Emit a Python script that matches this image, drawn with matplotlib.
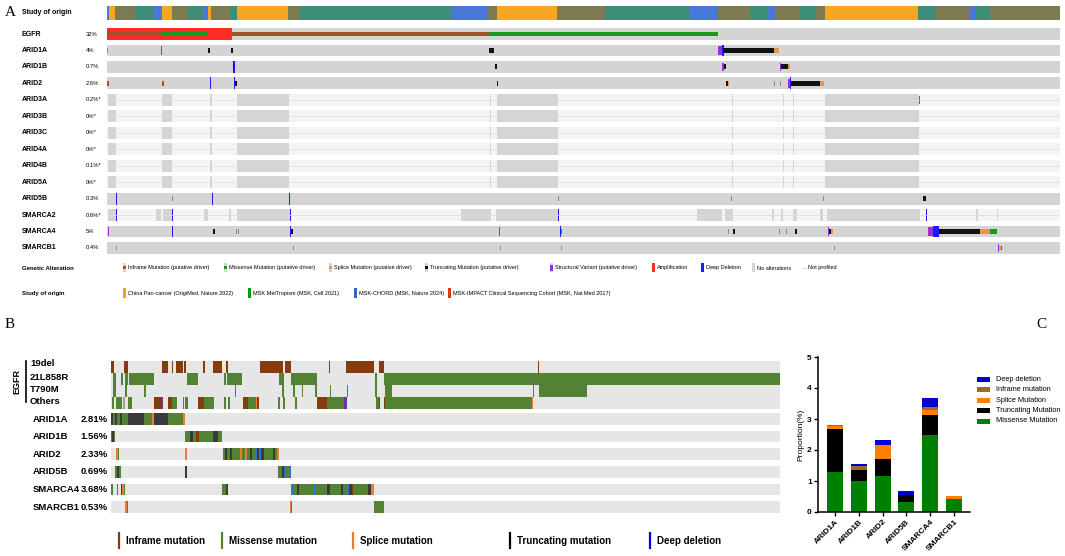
import matplotlib
matplotlib.use('Agg')
import matplotlib.pyplot as plt
from matplotlib.patches import Rectangle

W, H = 1065, 556
plt.rcParams['font.family'] = ['Liberation Sans', 'DejaVu Sans']
SERIF = ['Liberation Serif', 'DejaVu Serif']

# ================= Panel A data =================
N_A = 953  # samples (columns)
STUDY_START = [0, 1.5, 8, 28, 46, 55, 65, 81, 96, 101, 104, 123, 130, 181, 193, 345, 381, 390,
               450, 498, 583, 611, 643, 661, 668, 693, 708, 718, 811, 828, 863, 868, 883]
STUDY_CODE = ['CH', 'CP', 'OL', 'TE', 'CH', 'CP', 'OL', 'TE', 'CH', 'CP', 'OL', 'TE', 'CP', 'OL', 'TE',
              'CH', 'OL', 'CP', 'OL', 'TE', 'CH', 'OL', 'TE', 'CH', 'OL', 'TE', 'OL', 'CP', 'TE', 'OL',
              'CH', 'TE', 'OL']

A_GENES = ['EGFR', 'ARID1A', 'ARID1B', 'ARID2', 'ARID3A', 'ARID3B', 'ARID3C', 'ARID4A', 'ARID4B',
           'ARID5A', 'ARID5B', 'SMARCA2', 'SMARCA4', 'SMARCB1']
A_PCT = ['32%', '4%', '0.7%', '2.6%', '0.2%*', '0%*', '0%*', '0%*', '0.1%*', '0%*', '0.3%', '0.6%*', '5%', '0.4%']
A_FULLY_PROFILED = [True, True, True, True, False, False, False, False, False, False, True, False, True, True]

ARID3_BLOCKS = [(1, 9), (55, 65), (103, 105), (130, 182), (383, 384), (390, 451), (625, 626),
                (676, 677), (686, 687), (718, 812)]
SMARCA2_BLOCKS = [(1, 9), (49, 54), (56, 65), (97, 101), (122, 124), (130, 183), (354, 384), (389, 451),
                  (590, 615), (618, 626), (665, 667), (674, 676), (686, 690), (713, 716), (720, 813),
                  (869, 871), (890, 891)]

A_EVENTS = {
    'EGFR': [(0, 125, 'amp'), (0, 54, 'inf'), (54, 101, 'mis'), (125, 383, 'inf'), (383, 611, 'mis')],
    'ARID1A': [(0, 1, 'tick'), (54, 55, 'sv'), (101, 103, 'trunc'), (124, 126, 'trunc'), (382, 387, 'trunc'),
               (611, 615, 'sv'), (615, 617, 'del'), (616, 667, 'trunc'), (667, 672, 'spl')],
    'ARID1B': [(126, 127.5, 'del'), (126.3, 127.3, 'trunc'), (388, 389.5, 'trunc'), (615, 617, 'sv'),
               (617, 618.5, 'trunc'), (673, 674, 'sv'), (674, 681, 'trunc'), (681, 682.5, 'spl')],
    'ARID2': [(0, 1.5, 'inf'), (55, 56.5, 'inf'), (103, 104, 'del'), (127, 128, 'del'), (128, 130, 'trunc'),
              (389.5, 391, 'trunc'), (619, 620.5, 'trunc'), (620.5, 622, 'spl'), (667, 668, 'tick'),
              (673, 674, 'tick'), (681, 683, 'sv'), (683, 684, 'del'), (684, 713, 'trunc'), (713, 717, 'spl')],
    'ARID3A': [(812, 813, 'sv')],
    'ARID5B': [(9, 10, 'del'), (65, 66, 'tick'), (105, 106, 'del'), (182, 183, 'del'), (451, 452, 'tick'),
               (624, 625, 'tick'), (716, 717, 'tick'), (816, 819, 'trunc')],
    'SMARCA2': [(9, 10, 'del'), (65, 66, 'del'), (183, 184, 'del'), (451, 452, 'del'), (819, 820, 'del')],
    'SMARCA4': [(1, 2, 'sv'), (65, 66, 'del'), (106, 107.5, 'trunc'), (129, 130, 'tick'), (131, 132, 'tick'),
                (183, 184, 'del'), (184, 185.5, 'trunc'), (392, 393, 'sv'), (453, 454, 'del'), (454, 455, 'mis'),
                (621, 622, 'tick'), (626, 627.5, 'trunc'), (672, 673, 'tick'), (679, 680, 'tick'),
                (688, 689.5, 'trunc'), (721, 722, 'sv'), (722, 724, 'trunc'), (724, 726, 'spl'),
                (821, 826, 'sv'), (826, 832, 'del'), (832, 873, 'trunc'), (873, 883, 'spl'), (883, 890, 'mis')],
    'SMARCB1': [(9, 10, 'tick'), (186, 187, 'tick'), (393, 394, 'tick'), (454, 455, 'tick'), (727, 728, 'tick'),
                (891, 892, 'sv'), (892, 893.5, 'spl'), (893.5, 895, 'mis')],
}

# ================= Panel B data =================
N_B = 669
B_EGFR_ROWS = ['19del', '21L858R', 'T790M', 'Others']
B_19DEL = [(0, 3), (13, 17), (51, 57), (61, 62), (65, 72), (73, 75), (92, 94), (102, 111), (115, 117),
           (149, 172), (174, 180), (218, 219), (235, 263), (268, 273), (427, 428)]
B_L858R = [(2, 5), (10, 12), (14, 17), (18, 43), (76, 87), (113, 115), (116, 131), (168, 173), (180, 206),
           (264, 266), (273, 669)]
B_T790M = [(2, 5), (14, 16), (33, 35), (124, 125), (171, 173), (182, 184), (191, 192), (204, 206), (219, 220),
           (236, 237), (264, 266), (274, 281), (422, 423), (428, 476)]
B_OTHERS = [(1, 3, 'mis'), (5, 11, 'mis'), (12, 14, 'grey'), (17, 21, 'mis'), (43, 51, 'inf'), (51, 52, 'sv'),
            (57, 61, 'inf'), (61, 66, 'mis'), (72, 73, 'mis'), (74, 77, 'mis'), (87, 93, 'inf'), (93, 103, 'mis'),
            (113, 115, 'mis'), (117, 119, 'mis'), (132, 137, 'inf'), (137, 146, 'mis'), (144.5, 145.5, 'spl'),
            (146, 148, 'inf'), (167, 169, 'mis'), (172, 174, 'mis'), (184, 186, 'mis'), (206, 216, 'inf'),
            (216, 233, 'mis'), (233, 236, 'sv'), (265, 268, 'mis'), (268, 269, 'sv'), (273, 274, 'inf'),
            (274, 421, 'mis'), (421, 422, 'spl')]

B_GENES = ['ARID1A', 'ARID1B', 'ARID2', 'ARID5B', 'SMARCA4', 'SMARCB1']
B_PCT = ['2.81%', '1.56%', '2.33%', '0.69%', '3.68%', '0.53%']
B_EVENTS = {
    'ARID1A': [(0, 2, 'trunc'), (2, 4, 'mis'), (4, 6, 'trunc'), (6, 9, 'mis'), (9, 11, 'trunc'), (11, 17, 'mis'),
               (17, 33, 'trunc'), (33, 41, 'mis'), (41, 42.5, 'spl'), (42.5, 57, 'trunc'), (57, 72, 'mis'),
               (72, 73.5, 'spl')],
    'ARID1B': [(0, 1, 'mis'), (1, 3, 'trunc'), (3, 4, 'mis'), (74, 79, 'mis'), (79, 82, 'trunc'), (82, 85, 'mis'),
               (85, 88, 'inf'), (88, 102, 'mis'), (102, 107, 'trunc'), (107, 111, 'mis')],
    'ARID2': [(5, 6.5, 'spl'), (6.5, 8, 'mis'), (74, 75.5, 'spl'), (112, 113.5, 'mis'), (113.5, 116, 'trunc'),
              (116, 119, 'mis'), (119, 121, 'trunc'), (121, 129, 'mis'), (129, 131, 'spl'), (131, 134, 'mis'),
              (134, 136, 'spl'), (136, 139, 'mis'), (139, 141, 'trunc'), (141, 144, 'mis'), (144, 146, 'del'),
              (146, 148, 'trunc'), (148, 150, 'del'), (150, 153, 'trunc'), (153, 162, 'mis'), (162, 164, 'trunc'),
              (164, 166, 'mis'), (166, 168, 'spl')],
    'ARID5B': [(4, 6, 'mis'), (6, 8, 'trunc'), (8, 10, 'mis'), (74, 76, 'trunc'), (167, 171, 'mis'),
               (171, 173, 'trunc'), (173, 175, 'del'), (175, 178, 'mis'), (178, 179.5, 'del')],
    'SMARCA4': [(0, 2, 'mis'), (6, 7, 'mis'), (10, 11, 'trunc'), (11, 13, 'spl'), (13, 14, 'mis'),
                (111, 115, 'mis'), (115, 117, 'trunc'), (180, 182, 'del'), (182, 186, 'mis'), (186, 188, 'trunc'),
                (188, 202, 'mis'), (202, 205, 'del'), (205, 216, 'mis'), (216, 219, 'trunc'), (219, 230, 'mis'),
                (230, 232, 'trunc'), (232, 236, 'mis'), (236, 238, 'del'), (238, 241, 'trunc'), (241, 242, 'inf'),
                (242, 257, 'mis'), (257, 260, 'trunc'), (260, 263, 'spl')],
    'SMARCB1': [(14, 16, 'spl'), (16, 17, 'mis'), (179, 180, 'spl'), (180, 181, 'mis'), (263, 273, 'mis')],
}

# ================= Panel C data =================
C_GENES = ['ARID1A', 'ARID1B', 'ARID2', 'ARID5B', 'SMARCA4', 'SMARCB1']
C_MISSENSE = [1.29, 0.99, 1.15, 0.33, 2.50, 0.43]
C_TRUNCATING = [1.40, 0.38, 0.55, 0.23, 0.62, 0.00]
C_SPLICE = [0.10, 0.00, 0.45, 0.00, 0.17, 0.10]
C_INFRAME = [0.02, 0.13, 0.00, 0.00, 0.10, 0.00]
C_DEEPDEL = [0.00, 0.06, 0.18, 0.13, 0.29, 0.00]

# ================= styles =================
STUDY_COLORS = {'CP': '#f7a623', 'CH': '#4a78d6', 'OL': '#7d7b52', 'TE': '#3d8d78'}
A_COLORS = {'amp': '#ff2a2a', 'del': '#1a1aff', 'sv': '#9b30d9', 'mis': '#1a9a1a', 'trunc': '#111111',
            'inf': '#a0522d', 'spl': '#e8964b', 'tick': '#8a8a8a'}
A_HEIGHTS = {'amp': 0.72, 'del': 0.72, 'sv': 0.5, 'mis': 0.26, 'trunc': 0.3, 'inf': 0.26, 'spl': 0.3,
             'tick': 0.3}
A_GREY = '#d4d4d4'
B_COLORS = {'inf': '#843c0c', 'mis': '#548235', 'spl': '#ed7d31', 'trunc': '#3a3a3a', 'del': '#2f74d0',
            'sv': '#7030a0', 'grey': '#9e9e9e'}
B_BG = '#e6e6e6'

fig = plt.figure(figsize=(W / 100, H / 100), dpi=100)


def px_axes(x0, y0, x1, y1, z=1):
    ax = fig.add_axes([x0 / W, 1 - y1 / H, (x1 - x0) / W, (y1 - y0) / H])
    ax.set_zorder(z)
    ax.axis('off')
    return ax


# overlay for labels/legends (pixel coordinates)
ov = px_axes(0, 0, W, H, z=0)
ov.set_xlim(0, W)
ov.set_ylim(H, 0)

# ---------------- Panel A ----------------
ov.text(5, 12, 'A', family=SERIF, fontsize=11, va='center', ha='left')
ov.text(22, 12.5, 'Study of origin', fontsize=5, fontweight='bold', va='center')

ax_st = px_axes(107, 6, 1060, 19.5)
ax_st.set_xlim(0, N_A)
ax_st.set_ylim(0, 1)
st_end = STUDY_START[1:] + [N_A]
for s, e, c in zip(STUDY_START, st_end, STUDY_CODE):
    ax_st.bar(s, 1, width=e - s, bottom=0, align='edge', color=STUDY_COLORS[c], linewidth=0)

row_sp = 16.46
ax_a = px_axes(107, 34 - row_sp / 2, 1060, 248 + row_sp / 2)
ax_a.set_xlim(0, N_A)
ax_a.set_ylim(len(A_GENES) - 0.5, -0.5)
for i, (g, pct, full) in enumerate(zip(A_GENES, A_PCT, A_FULLY_PROFILED)):
    yc = 34 + i * row_sp
    ov.text(22, yc, g, fontsize=5, fontweight='bold', va='center')
    ov.text(86, yc, pct, fontsize=4.2, va='center')
    h = A_HEIGHTS['amp']
    if full:
        ax_a.bar(0, h, width=N_A, bottom=i - h / 2, align='edge', color=A_GREY, linewidth=0)
    else:
        ax_a.bar(0, h, width=N_A, bottom=i - h / 2, align='edge', color='#f4f4f4', linewidth=0)
        ax_a.plot([0, N_A], [i, i], color='#dddddd', lw=0.5)
        blocks = SMARCA2_BLOCKS if g == 'SMARCA2' else ARID3_BLOCKS
        for s, e in blocks:
            ax_a.bar(s, h, width=e - s, bottom=i - h / 2, align='edge', color=A_GREY, linewidth=0)
    for s, e, t in A_EVENTS.get(g, []):
        hh = A_HEIGHTS[t]
        ax_a.bar(s, hh, width=max(e - s, 0.9), bottom=i - hh / 2, align='edge', color=A_COLORS[t], linewidth=0)

# Legend: Genetic Alteration
ov.text(22, 268, 'Genetic Alteration', fontsize=4.3, fontweight='bold', va='center')
ga_items = [(123, 'inf', 'Inframe Mutation (putative driver)'),
            (224, 'mis', 'Missense Mutation (putative driver)'),
            (329, 'spl', 'Splice Mutation (putative driver)'),
            (425, 'trunc', 'Truncating Mutation (putative driver)'),
            (550, 'sv', 'Structural Variant (putative driver)'),
            (652, 'amp', 'Amplification'),
            (701, 'del', 'Deep Deletion'),
            (752, 'none', 'No alterations'),
            (803, 'np', 'Not profiled')]
for x, t, lab in ga_items:
    if t == 'np':
        ov.plot([x, x + 3], [268, 268], color='#c8c8c8', lw=0.6)
    else:
        ov.add_patch(Rectangle((x, 263), 3, 9, color=A_GREY, lw=0))
        if t != 'none':
            hh = {'amp': 9, 'del': 9, 'sv': 6}.get(t, 3)
            ov.add_patch(Rectangle((x, 267.5 - hh / 2), 3, hh, color=A_COLORS[t], lw=0))
    ov.text(x + 5, 268, lab, fontsize=3.95, va='center')

ov.text(22, 293, 'Study of origin', fontsize=4.3, fontweight='bold', va='center')
so_items = [(123, '#f7a01c', 'China Pan-cancer (OrigiMed, Nature 2022)'),
            (248, '#109618', 'MSK MetTropism (MSK, Cell 2021)'),
            (354, '#3366cc', 'MSK-CHORD (MSK, Nature 2024)'),
            (448, '#dc3912', 'MSK-IMPACT Clinical Sequencing Cohort (MSK, Nat Med 2017)')]
for x, c, lab in so_items:
    ov.add_patch(Rectangle((x, 288), 3, 10, color=c, lw=0))
    ov.text(x + 5, 293, lab, fontsize=3.95, va='center')

# ---------------- Panel B ----------------
ov.text(5, 324, 'B', family=SERIF, fontsize=11, va='center', ha='left')
ov.text(17, 381, 'EGFR', fontsize=6.5, fontweight='bold', rotation=90, va='center', ha='center')
ov.plot([26, 26], [361, 402], color='black', lw=1.2)
for lab, y in zip(B_EGFR_ROWS, [363.5, 377, 389, 401]):
    ov.text(30, y, lab, fontsize=6.8, fontweight='bold', va='center')

ax_be = px_axes(111, 361, 780, 409)
ax_be.set_xlim(0, N_B)
ax_be.set_ylim(4, 0)
for r in range(4):
    ax_be.bar(0, 0.94, width=N_B, bottom=r + 0.03, align='edge', color=B_BG, linewidth=0)
for s, e in B_19DEL:
    ax_be.bar(s, 0.94, width=e - s, bottom=0.03, align='edge', color=B_COLORS['inf'], linewidth=0)
for s, e in B_L858R:
    ax_be.bar(s, 0.94, width=e - s, bottom=1.03, align='edge', color=B_COLORS['mis'], linewidth=0)
for s, e in B_T790M:
    ax_be.bar(s, 0.94, width=e - s, bottom=2.03, align='edge', color=B_COLORS['mis'], linewidth=0)
for s, e, t in B_OTHERS:
    ax_be.bar(s, 0.94, width=e - s, bottom=3.03, align='edge', color=B_COLORS[t], linewidth=0)

b_sp = 17.6
ax_bg = px_axes(111, 419 - b_sp / 2, 780, 419 + 5 * b_sp + b_sp / 2)
ax_bg.set_xlim(0, N_B)
ax_bg.set_ylim(len(B_GENES) - 0.5, -0.5)
bh = 0.66
for i, (g, pct) in enumerate(zip(B_GENES, B_PCT)):
    yc = 419 + i * b_sp
    ov.text(33, yc, g, fontsize=6.8, fontweight='bold', va='center')
    ov.text(108, yc, pct, fontsize=6.8, fontweight='bold', va='center', ha='right')
    ax_bg.bar(0, bh, width=N_B, bottom=i - bh / 2, align='edge', color=B_BG, linewidth=0)
    for s, e, t in B_EVENTS[g]:
        ax_bg.bar(s, bh, width=e - s, bottom=i - bh / 2, align='edge', color=B_COLORS[t], linewidth=0)

b_leg = [(119, '#843c0c', 'Inframe mutation'), (222, '#548235', 'Missense mutation'),
         (353, '#ed7d31', 'Splice mutation'), (510, '#000000', 'Truncating mutation'),
         (650, '#0000ff', 'Deep deletion')]
for x, c, lab in b_leg:
    ov.plot([x, x], [533, 548], color=c, lw=1.6)
    ov.text(x + 7, 540.5, lab, fontsize=7, fontweight='bold', va='center')

# ---------------- Panel C ----------------
ov.text(1036, 324, 'C', family=SERIF, fontsize=11, va='center', ha='left')
ax_c = fig.add_axes([818 / W, 1 - 512 / H, (970 - 818) / W, (512 - 357) / H])
ax_c.set_zorder(2)
xs = list(range(len(C_GENES)))
stack = [(C_MISSENSE, '#008000'), (C_TRUNCATING, '#000000'), (C_SPLICE, '#ff8000'),
         (C_INFRAME, '#9c6a2c'), (C_DEEPDEL, '#0000cc')]
bottom = [0.0] * len(C_GENES)
for vals, col in stack:
    ax_c.bar(xs, vals, width=0.67, bottom=bottom, color=col, linewidth=0)
    bottom = [b + v for b, v in zip(bottom, vals)]
ax_c.set_xlim(-0.71, 5.67)
ax_c.set_ylim(0, 5)
ax_c.set_yticks([0, 1, 2, 3, 4, 5])
ax_c.set_xticks(xs)
ax_c.set_xticklabels(C_GENES, rotation=45, ha='right', rotation_mode='anchor', fontsize=6, fontweight='bold')
for lab in ax_c.get_yticklabels():
    lab.set_fontweight('bold')
    lab.set_fontsize(6)
ax_c.tick_params(axis='both', length=3, width=1, direction='out', pad=1.5)
ax_c.spines['top'].set_visible(False)
ax_c.spines['right'].set_visible(False)
ax_c.spines['left'].set_linewidth(1.1)
ax_c.spines['bottom'].set_linewidth(1.1)
ax_c.set_ylabel('Proportion(%)', fontsize=6, labelpad=2)
ax_c.patch.set_alpha(0)

c_leg = [(379.5, '#0000cc', 'Deep deletion'), (389.5, '#9c6a2c', 'Inframe mutation'),
         (400, '#ff8000', 'Splice Mutation'), (410.5, '#000000', 'Truncating Mutation'),
         (421, '#008000', 'Missense Mutation')]
for y, c, lab in c_leg:
    ov.add_patch(Rectangle((977, y - 2.5), 13, 5, color=c, lw=0))
    ov.text(996, y, lab, fontsize=5.3, va='center')

fig.savefig('out.png', dpi=100)
